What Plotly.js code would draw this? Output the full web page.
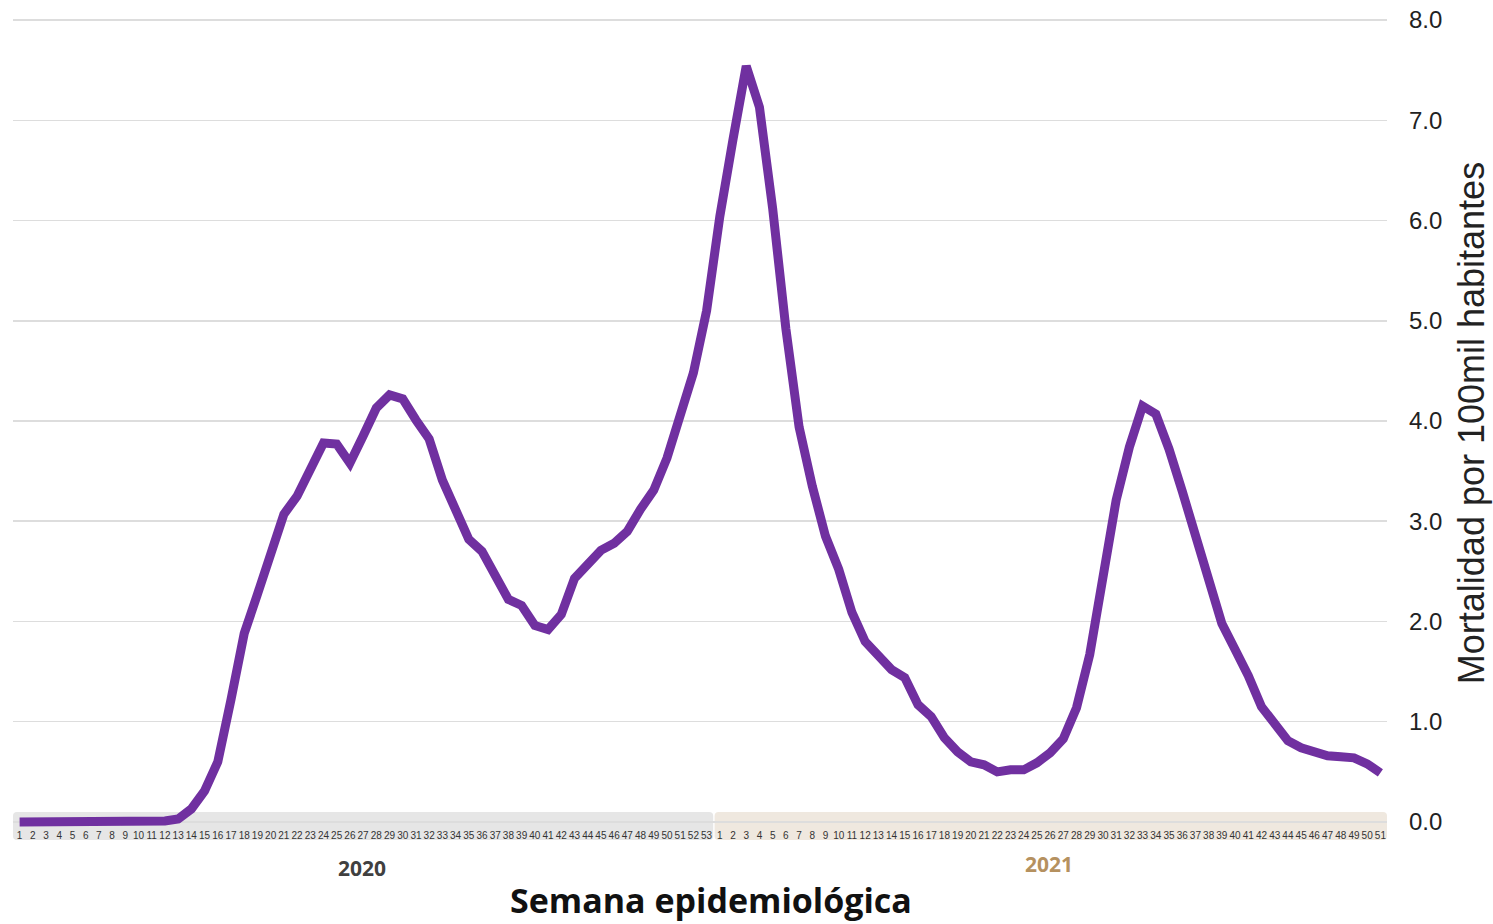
<!DOCTYPE html>
<html>
<head>
<meta charset="utf-8">
<script src="https://cdn.plot.ly/plotly-3.0.1.min.js"></script>
<style>
  html, body { margin: 0; padding: 0; background: #ffffff; }
  #chart { width: 1493px; height: 924px; }
</style>
</head>
<body>
<div id="chart"></div>
<script>
// ---- Data ----
const weeks2020 = [1,2,3,4,5,6,7,8,9,10,11,12,13,14,15,16,17,18,19,20,21,22,23,24,25,26,27,28,29,30,31,32,33,34,35,36,37,38,39,40,41,42,43,44,45,46,47,48,49,50,51,52,53];
const weeks2021 = [1,2,3,4,5,6,7,8,9,10,11,12,13,14,15,16,17,18,19,20,21,22,23,24,25,26,27,28,29,30,31,32,33,34,35,36,37,38,39,40,41,42,43,44,45,46,47,48,49,50,51];

const mortalidad2020 = [0.00,0.00,0.00,0.00,0.00,0.00,0.00,0.00,0.00,0.00,0.00,0.01,0.03,0.13,0.31,0.60,1.22,1.88,2.27,2.70,
                        3.07,3.25,3.50,3.78,3.77,3.58,3.85,4.13,4.26,4.22,4.01,3.82,3.41,3.12,2.82,2.70,2.46,2.22,2.16,1.96,
                        1.92,2.07,2.43,2.58,2.71,2.78,2.90,3.12,3.31,3.63,4.02,4.48,5.10];
const mortalidad2021 = [6.04,6.81,7.54,7.13,6.12,4.92,3.94,3.35,2.85,2.52,2.09,1.80,1.66,1.52,1.44,1.17,1.05,0.84,0.70,0.60,
                        0.57,0.50,0.52,0.52,0.59,0.69,0.83,1.14,1.67,2.47,3.21,3.74,4.15,4.07,3.72,3.30,2.84,2.40,1.98,1.72,
                        1.46,1.15,0.99,0.81,0.74,0.70,0.66,0.65,0.64,0.58,0.49];

const yearLabels = ["2020", "2021"];
const yTickVals = [0,1,2,3,4,5,6,7,8];
const xTitle = "Semana epidemiológica";
const yTitle = "Mortalidad por 100mil habitantes";

// ---- Build series ----
const weekLabels = weeks2020.concat(weeks2021).map(String);
const values = mortalidad2020.concat(mortalidad2021);
const xIdx = weekLabels.map((_, i) => i);
const nTotal = weekLabels.length;
const split = weeks2020.length / nTotal;

// ---- Layout geometry ----
const W = 1493, H = 924;
const mL = 13, mR = 106;
const yMin = -0.06, yMax = 8.02;
const pxPerUnit = 100.25;
const mT = 20 - (yMax - 8) * pxPerUnit;
const plotH = (yMax - yMin) * pxPerUnit;
const mB = H - mT - plotH;
const zeroPx = 20 + 8 * pxPerUnit;       // pixel of y = 0
function pyToPaper(py) { return (mT + plotH - py) / plotH; }

const bandTop = pyToPaper(zeroPx - 10);
const bandBot = pyToPaper(zeroPx + 18);
const plotW = W - mL - mR;
const rx = 4 / plotW, ry = 4 / plotH;
function roundRect(x0, x1, y0, y1) {
  return `M ${x0 + rx},${y0} L ${x1 - rx},${y0} Q ${x1},${y0} ${x1},${y0 - ry} ` +
         `L ${x1},${y1 + ry} Q ${x1},${y1} ${x1 - rx},${y1} L ${x0 + rx},${y1} ` +
         `Q ${x0},${y1} ${x0},${y1 + ry} L ${x0},${y0 - ry} Q ${x0},${y0} ${x0 + rx},${y0} Z`;
}

const trace = {
  type: 'scatter',
  mode: 'lines',
  x: xIdx,
  y: values,
  line: { color: '#7030a0', width: 9, shape: 'linear' },
  cliponaxis: false,
  hoverinfo: 'skip',
  showlegend: false
};

const layout = {
  width: W, height: H,
  margin: { l: mL, r: mR, t: mT, b: mB, pad: 0 },
  paper_bgcolor: '#ffffff',
  plot_bgcolor: 'rgba(0,0,0,0)',
  showlegend: false,
  xaxis: {
    type: 'linear',
    range: [-0.5, nTotal - 0.5],
    tickmode: 'array',
    tickvals: xIdx,
    ticktext: weekLabels,
    tickangle: 0,
    tickfont: { family: 'Liberation Sans, Arial, sans-serif', size: 10, color: '#333333' },
    ticks: '',
    ticklabelstandoff: 0,
    showgrid: false,
    zeroline: false,
    showline: false,
    fixedrange: true
  },
  yaxis: {
    side: 'right',
    range: [yMin, yMax],
    tickmode: 'array',
    tickvals: yTickVals,
    tickformat: '.1f',
    tickfont: { family: 'Liberation Sans, Arial, sans-serif', size: 24, color: '#222222' },
    ticklabelstandoff: 21,
    gridcolor: '#dddddd',
    gridwidth: 1.5,
    zeroline: false,
    showline: false,
    ticks: '',
    fixedrange: true,
    title: {
      text: yTitle,
      font: { family: 'Liberation Sans, Arial, sans-serif', size: 36, color: '#222222' },
      standoff: 17
    }
  },
  shapes: [
    { type: 'path', xref: 'paper', yref: 'paper', layer: 'below',
      path: roundRect(0, split, bandTop, bandBot),
      fillcolor: '#e6e6e6', line: { width: 0 } },
    { type: 'path', xref: 'paper', yref: 'paper', layer: 'below',
      path: roundRect(split + 0.001, 1, bandTop, bandBot),
      fillcolor: '#efe8df', line: { width: 0 } }
  ],
  annotations: [
    { xref: 'paper', yref: 'paper', x: (362 - mL) / plotW, y: pyToPaper(868), xanchor: 'center', yanchor: 'middle',
      text: '<b>' + yearLabels[0] + '</b>', showarrow: false,
      font: { family: 'Open Sans, sans-serif', size: 21, color: '#404040' } },
    { xref: 'paper', yref: 'paper', x: (1049 - mL) / plotW, y: pyToPaper(864), xanchor: 'center', yanchor: 'middle',
      text: '<b>' + yearLabels[1] + '</b>', showarrow: false,
      font: { family: 'Open Sans, sans-serif', size: 21, color: '#b5915f' } },
    { xref: 'paper', yref: 'paper', x: (711 - mL) / plotW, y: pyToPaper(925), xanchor: 'center', yanchor: 'bottom',
      text: '<b>' + xTitle + '</b>', showarrow: false,
      font: { family: 'Open Sans, sans-serif', size: 34, color: '#111111' } }
  ]
};

Plotly.newPlot('chart', [trace], layout, { displayModeBar: false, staticPlot: true });
</script>
</body>
</html>
